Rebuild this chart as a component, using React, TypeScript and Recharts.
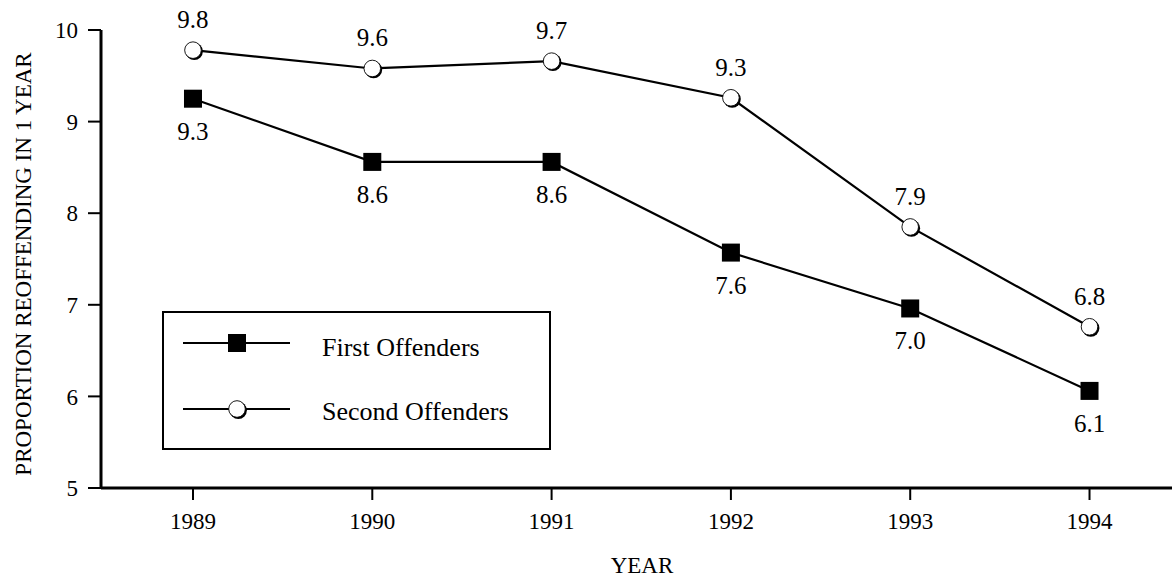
import React from 'react';
import { LineChart, Line, XAxis, YAxis, Legend, LabelList, Label } from 'recharts';

const years = [1989, 1990, 1991, 1992, 1993, 1994];
const firstOffenders = [9.25, 8.56, 8.56, 7.57, 6.96, 6.06];
const secondOffenders = [9.78, 9.58, 9.66, 9.26, 7.85, 6.76];
const firstLabels = ['9.3', '8.6', '8.6', '7.6', '7.0', '6.1'];
const secondLabels = ['9.8', '9.6', '9.7', '9.3', '7.9', '6.8'];
const yTicks = [5, 6, 7, 8, 9, 10];
const seriesNames = ['First Offenders', 'Second Offenders'];

const data = years.map((y, i) => ({
  year: y,
  first: firstOffenders[i],
  second: secondOffenders[i],
  firstLabel: firstLabels[i],
  secondLabel: secondLabels[i],
}));

const FONT = '"Liberation Serif", "Times New Roman", serif';

const SquareDot = (props: any) => {
  const { cx, cy, index } = props;
  if (cx == null || cy == null) return <g key={`s${index}`} />;
  return <rect key={`s${index}`} x={cx - 9} y={cy - 9} width={18} height={18} fill="#000" />;
};

const CircleDot = (props: any) => {
  const { cx, cy, index } = props;
  if (cx == null || cy == null) return <g key={`c${index}`} />;
  return (
    <g key={`c${index}`}>
      <circle cx={cx + 1.3} cy={cy + 1.3} r={8.6} fill="#000" />
      <circle cx={cx} cy={cy} r={8.3} fill="#fff" stroke="#000" strokeWidth={0.9} />
    </g>
  );
};

const LegendContent = () => (
  <svg width={390} height={140} style={{ display: 'block' }}>
    <rect x={1} y={1} width={387} height={137} fill="#fff" stroke="#000" strokeWidth={2} />
    <line x1={21} y1={32} x2={128} y2={32} stroke="#000" strokeWidth={2.2} />
    <rect x={66} y={23} width={18} height={18} fill="#000" />
    <text x={160} y={45} fontFamily={FONT} fontSize={26} fill="#000">{seriesNames[0]}</text>
    <line x1={21} y1={98} x2={128} y2={98} stroke="#000" strokeWidth={2.2} />
    <circle cx={76.3} cy={99.3} r={8.6} fill="#000" />
    <circle cx={75} cy={98} r={8.3} fill="#fff" stroke="#000" strokeWidth={0.9} />
    <text x={160} y={109} fontFamily={FONT} fontSize={26} fill="#000">{seriesNames[1]}</text>
  </svg>
);

export default function App() {
  return (
    <div style={{ position: 'absolute', left: 0, top: 0, width: 1172, height: 581, background: '#fff' }}>
      <LineChart
        width={1172}
        height={581}
        data={data}
        margin={{ top: 30, right: 0, bottom: 0, left: 0 }}
      >
        <XAxis
          dataKey="year"
          type="number"
          domain={[1988.487, 1994.46]}
          ticks={years}
          allowDataOverflow
          height={93}
          axisLine={{ stroke: '#000', strokeWidth: 3 }}
          tickLine={{ stroke: '#000', strokeWidth: 2 }}
          tickSize={12}
          tickMargin={13}
          tick={{ fill: '#000', fontSize: 23, fontFamily: FONT }}
        >
          <Label
            content={() => (
              <text x={642} y={573} textAnchor="middle" fontFamily={FONT} fontSize={23} fill="#000">
                YEAR
              </text>
            )}
          />
        </XAxis>
        <YAxis
          type="number"
          domain={[5, 10]}
          ticks={yTicks}
          width={101}
          axisLine={{ stroke: '#000', strokeWidth: 3 }}
          tickLine={{ stroke: '#000', strokeWidth: 2 }}
          tickSize={13}
          tickMargin={10}
          tick={{ fill: '#000', fontSize: 23, fontFamily: FONT }}
        >
          <Label
            content={() => (
              <text
                transform="translate(31, 264) rotate(-90)"
                textAnchor="middle"
                fontFamily={FONT}
                fontSize={23}
                fill="#000"
              >
                PROPORTION REOFFENDING IN 1 YEAR
              </text>
            )}
          />
        </YAxis>
        <Legend
          layout="vertical"
          align="center"
          verticalAlign="middle"
          wrapperStyle={{ position: 'absolute', left: 162, top: 311, width: 390, height: 140 }}
          content={LegendContent}
        />
        <Line
          type="linear"
          dataKey="first"
          name={seriesNames[0]}
          stroke="#000"
          strokeWidth={2.2}
          dot={SquareDot}
          activeDot={false}
          isAnimationActive={false}
        >
          <LabelList
            dataKey="firstLabel"
            content={(p: any) => (
              <text x={p.x} y={p.y + 41} textAnchor="middle" fontFamily={FONT} fontSize={25} fill="#000">
                {p.value}
              </text>
            )}
          />
        </Line>
        <Line
          type="linear"
          dataKey="second"
          name={seriesNames[1]}
          stroke="#000"
          strokeWidth={2.2}
          dot={CircleDot}
          activeDot={false}
          isAnimationActive={false}
        >
          <LabelList
            dataKey="secondLabel"
            content={(p: any) => (
              <text x={p.x} y={p.y - 22} textAnchor="middle" fontFamily={FONT} fontSize={25} fill="#000">
                {p.value}
              </text>
            )}
          />
        </Line>
      </LineChart>
    </div>
  );
}
